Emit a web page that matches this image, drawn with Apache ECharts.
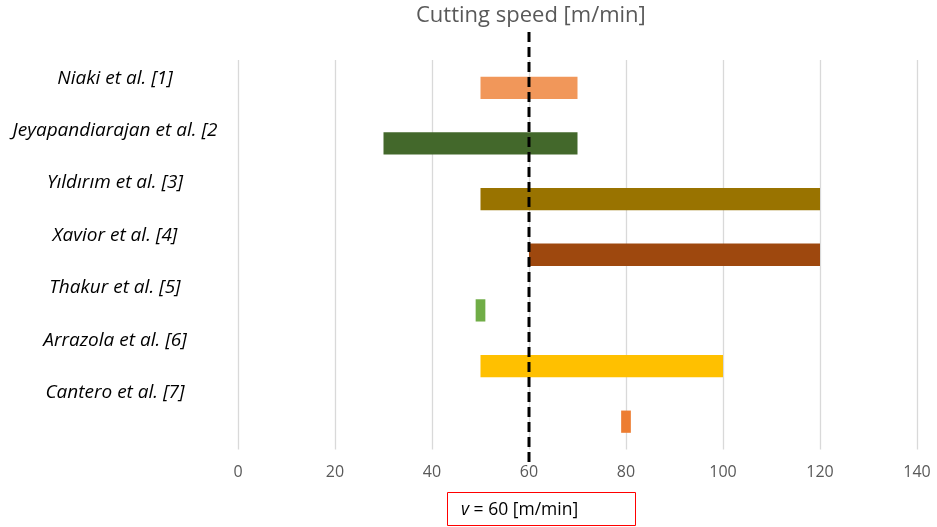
<!DOCTYPE html>
<html>
<head>
<meta charset="utf-8">
<script src="https://cdn.jsdelivr.net/npm/echarts@6/dist/echarts.min.js"></script>
<style>
  html, body { margin: 0; padding: 0; background: #ffffff; }
  #chart { width: 937px; height: 527px; }
</style>
</head>
<body>
<div id="chart"></div>
<script>
// Studies compared and their cutting-speed ranges [m/min]
const studies = [
  'Niaki et al. [1]',
  'Jeyapandiarajan et al. [2]',
  'Yıldırım et al. [3]',
  'Xavior et al. [4]',
  'Thakur et al. [5]',
  'Arrazola et al. [6]',
  'Cantero et al. [7]'
];
const speedMin = [50, 30, 50, 60, 49, 50, 79];
const speedMax = [70, 70, 120, 120, 51, 100, 81];
const barColors = ['#F1975A', '#43682B', '#997300', '#9E480E', '#70AD47', '#FFC000', '#ED7D31'];
const xTicks = { min: 0, max: 140, step: 20 };
const referenceSpeed = 60;

const rows = studies.map((s, i) => i);   // one bar row per study
const spans = speedMax.map((v, i) => v - speedMin[i]);

const chart = echarts.init(document.getElementById('chart'), null, { renderer: 'canvas' });

chart.setOption({
  animation: false,
  backgroundColor: '#ffffff',
  textStyle: { fontFamily: 'Open Sans' },
  title: [
    {
      text: 'Cutting speed [m/min]',
      left: 416, top: 5, padding: 0,
      textStyle: { fontFamily: 'Open Sans', fontSize: 22, fontWeight: 'normal', color: '#595959' }
    },
    {
      text: '{i|v} = ' + referenceSpeed + ' [m/min]',
      left: 447, top: 492,
      padding: [9, 58, 7, 14],
      borderColor: '#ff0000', borderWidth: 1,
      textStyle: {
        fontFamily: 'Open Sans', fontSize: 17.5, fontWeight: 'normal', color: '#000000',
        rich: { i: { fontFamily: 'Open Sans', fontSize: 17.5, fontStyle: 'italic', color: '#000000' } }
      }
    }
  ],
  grid: [
    { left: 238, right: 20, top: 60, height: 389.5 },   // bars
    { left: 238, right: 20, top: 52, height: 367 },     // study names
    { left: 238, right: 20, top: 32, bottom: 65 }       // reference line
  ],
  xAxis: [
    {
      gridIndex: 0, type: 'value', min: xTicks.min, max: xTicks.max, interval: xTicks.step,
      axisLine: { show: false }, axisTick: { show: false },
      axisLabel: { color: '#595959', fontSize: 16, fontFamily: 'Open Sans', margin: 15 },
      splitLine: { show: true, lineStyle: { color: '#d9d9d9', width: 1.3 } }
    },
    { gridIndex: 1, type: 'value', min: xTicks.min, max: xTicks.max, show: false },
    { gridIndex: 2, type: 'value', min: xTicks.min, max: xTicks.max, show: false }
  ],
  yAxis: [
    {
      gridIndex: 0, type: 'category', data: rows, inverse: true,
      axisLine: { show: false }, axisTick: { show: false }, axisLabel: { show: false },
      splitLine: { show: false }
    },
    {
      gridIndex: 1, type: 'category', data: studies, inverse: true,
      axisLine: { show: false }, axisTick: { show: false }, splitLine: { show: false },
      axisLabel: {
        color: '#000000', fontSize: 19, fontStyle: 'italic', fontFamily: 'Open Sans',
        align: 'center', margin: 123,
        width: 206, overflow: 'truncate', ellipsis: ''
      }
    },
    { gridIndex: 2, type: 'value', min: 0, max: 1, show: false }
  ],
  series: [
    {
      name: 'start', type: 'bar', stack: 'range', xAxisIndex: 0, yAxisIndex: 0,
      data: speedMin, barCategoryGap: '60%', silent: true,
      itemStyle: { color: 'rgba(0,0,0,0)' }
    },
    {
      name: 'range', type: 'bar', stack: 'range', xAxisIndex: 0, yAxisIndex: 0,
      barCategoryGap: '60%',
      data: spans.map((v, i) => ({ value: v, itemStyle: { color: barColors[i] } }))
    },
    {
      name: 'reference', type: 'line', xAxisIndex: 2, yAxisIndex: 2,
      data: [[referenceSpeed, 0], [referenceSpeed, 1]],
      symbol: 'none', silent: true,
      lineStyle: { color: '#000000', width: 3, type: [10, 5] }
    }
  ]
});
</script>
</body>
</html>
